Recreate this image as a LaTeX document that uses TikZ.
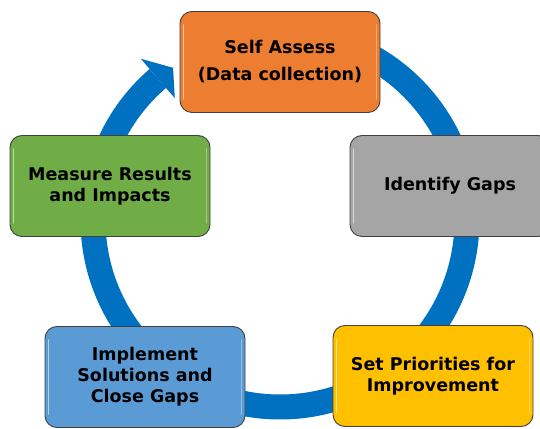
\documentclass[tikz,border=0pt]{standalone}
\usepackage{fontspec}
\setmainfont{DejaVu Sans}
\definecolor{ringblue}{HTML}{0070C0}
\definecolor{corange}{HTML}{ED7D31}
\definecolor{cgray}{HTML}{A5A5A5}
\definecolor{cgreen}{HTML}{70AD47}
\definecolor{cblue}{HTML}{5B9BD5}
\definecolor{cgold}{HTML}{FFC000}
\definecolor{edgegray}{HTML}{404040}
\tikzset{
  stagebox/.style={draw=edgegray, line width=0.9pt, rounded corners=12pt,
    minimum width=200pt, minimum height=101pt, align=center, text=black,
    font=\fontsize{17.5}{21}\selectfont\bfseries, inner sep=4pt},
  shine/.style={white, opacity=0.55, line width=1.6pt, line cap=round}
}
\begin{document}
\begin{tikzpicture}[x=1pt,y=1pt]
\useasboundingbox (0,0) rectangle (540,428);
\clip (0,0) rectangle (540,428);
\fill[white] (0,0) rectangle (540,428);
% ring
\coordinate (c) at (280,208);
\draw[ringblue, line width=25pt] ([shift={(130.8:187)}]c) arc[start angle=130.8, end angle=455, radius=187pt];
\fill[ringblue] ([shift={(130.8:213)}]c) -- ([shift={(125.1:186)}]c) -- ([shift={(130.8:161)}]c) -- cycle;
% boxes
\node[stagebox, fill=corange] (self) at (280,366) {Self Assess\\[6pt](Data collection)};
\node[stagebox, fill=cgray] (ident) at (450,242) {Identify Gaps};
\node[stagebox, fill=cgreen] (meas) at (110,242) {Measure Results\\and Impacts};
\node[stagebox, fill=cblue] (impl) at (145,51) {Implement\\Solutions and\\Close Gaps};
\node[stagebox, fill=cgold] (setp) at (433,52) {Set Priorities for\\Improvement};
% bevel highlights
\foreach \n in {self,ident,meas,impl,setp}{
  \draw[shine] ([shift={(4pt,-14pt)}]\n.north west) -- ([shift={(4pt,14pt)}]\n.south west);
  \draw[shine, opacity=0.35] ([shift={(-4pt,-14pt)}]\n.north east) -- ([shift={(-4pt,14pt)}]\n.south east);
}
\end{tikzpicture}
\end{document}
